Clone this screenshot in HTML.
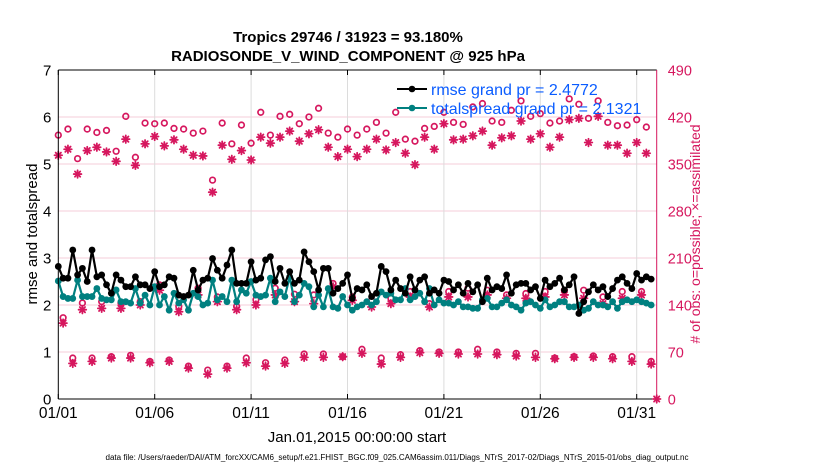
<!DOCTYPE html>
<html><head><meta charset="utf-8"><style>
html,body{margin:0;padding:0;background:#fff;width:830px;height:470px;overflow:hidden}
svg{display:block;font-family:"Liberation Sans",Arial,sans-serif}
</style></head><body>
<svg id="chart" width="830" height="470" viewBox="0 0 830 470">
<g id="grid"></g>
<g id="series"></g>
<g id="axes"></g>
<text x="348" y="42" text-anchor="middle" font-size="15" font-weight="bold">Tropics 29746 / 31923 = 93.180%</text>
<text x="348" y="61" text-anchor="middle" font-size="15" font-weight="bold">RADIOSONDE_V_WIND_COMPONENT @ 925 hPa</text>
<text transform="translate(37,234) rotate(-90)" text-anchor="middle" font-size="15">rmse and totalspread</text>
<text transform="translate(700,234) rotate(-90)" text-anchor="middle" font-size="14" fill="#d6175e"># of obs: o=possible; ×=assimilated</text>
<text x="357" y="442" text-anchor="middle" font-size="15">Jan.01,2015 00:00:00 start</text>
<text x="397" y="460" text-anchor="middle" font-size="8" textLength="583" lengthAdjust="spacingAndGlyphs">data file: /Users/raeder/DAI/ATM_forcXX/CAM6_setup/f.e21.FHIST_BGC.f09_025.CAM6assim.011/Diags_NTrS_2017-02/Diags_NTrS_2015-01/obs_diag_output.nc</text>
<g>
<line x1="397" y1="89" x2="427" y2="89" stroke="#000" stroke-width="2"/>
<circle cx="412" cy="89" r="3.3" fill="#000"/>
<text x="431" y="95" font-size="16" fill="#0a5cff">rmse grand pr = 2.4772</text>
<line x1="397" y1="108" x2="427" y2="108" stroke="#008080" stroke-width="2"/>
<circle cx="412" cy="108" r="3.3" fill="#008080"/>
<text x="431" y="114" font-size="16" fill="#0a5cff">totalspread grand pr = 2.1321</text>
</g>
</svg>
<script>
const rmse=[2.82,2.57,2.57,3.17,2.64,2.78,2.50,3.17,2.60,2.64,2.43,2.25,2.64,2.53,2.39,2.39,2.60,2.43,2.43,2.35,2.71,2.39,2.43,2.60,2.57,2.21,2.18,2.21,2.74,2.32,2.53,2.57,2.99,2.74,2.57,2.85,3.17,2.46,2.46,2.46,2.92,
2.53,2.57,2.96,3.03,2.50,2.78,2.46,2.71,2.46,2.53,3.13,2.92,2.71,2.32,2.78,2.78,2.25,2.35,2.46,2.64,2.14,2.35,2.32,2.43,2.18,2.25,2.82,2.71,2.32,2.53,2.35,2.25,2.60,2.32,2.53,2.60,2.25,2.32,2.25,2.53,
2.50,2.32,2.43,2.25,2.46,2.28,2.43,2.07,2.57,2.32,2.39,2.35,2.64,2.25,2.43,2.46,2.46,2.32,2.39,2.14,2.53,2.39,2.46,2.57,2.32,2.43,2.60,1.82,2.07,2.28,2.43,2.32,2.39,2.18,2.35,2.53,2.60,2.46,2.35,2.67,2.53,2.60,2.55];
const spread=[2.51,2.18,2.14,2.14,2.53,2.18,2.18,2.18,2.35,2.14,2.11,2.11,2.32,2.07,2.07,2.04,2.35,2.04,2.21,2.00,2.39,2.00,2.18,1.89,2.25,2.04,2.11,1.89,2.25,2.18,2.00,2.04,2.53,2.11,2.18,2.07,2.53,2.07,2.32,2.25,2.50,
2.21,2.18,2.21,2.57,2.07,2.28,2.18,2.60,2.07,2.21,2.46,2.39,1.96,2.21,1.96,2.35,1.96,1.93,2.18,2.00,1.89,1.96,2.00,2.07,2.00,2.07,2.28,2.21,2.25,2.11,2.11,2.35,2.11,2.18,2.25,2.07,2.35,2.00,2.11,2.04,
2.04,2.00,2.07,1.96,1.96,1.93,1.93,2.11,2.14,1.96,1.96,2.04,2.11,2.00,1.96,1.89,2.04,2.07,2.00,1.93,2.11,1.96,2.00,2.07,2.07,1.96,1.96,2.00,1.89,1.93,2.07,2.00,2.00,1.96,2.07,1.93,2.07,2.11,2.07,2.11,2.07,2.04,2.00];
const possUpper=[393,402,358,402,397,400,369,421,360,411,410,411,403,402,396,399,326,411,380,408,381,427,393,421,424,410,420,433,396,390,402,
393,402,412,396,427,387,384,403,406,427,412,409,435,440,414,412,430,444,421,425,411,414,447,439,418,444,412,407,408,416,405];
const assimUpper=[363,372,335,370,375,368,354,387,348,380,391,377,386,372,363,362,308,378,357,370,356,390,381,390,399,384,395,401,375,361,372,
361,372,387,371,382,366,349,390,372,410,386,387,392,399,378,389,392,414,387,395,375,390,416,418,382,421,378,378,366,382,366];
const possMid=[121,143,145,143,145,170,138,165,152,138,148,165,156,155,172,152,147,150,160,142,160,165,162,155,157,160,162,162,152,160,160];
const assimMid=[113,133,135,135,140,162,130,155,145,133,140,155,145,142,167,147,137,142,152,137,152,152,155,150,150,152,155,150,142,150,155];
const possLow=[61,61,63,65,56,58,49,43,49,61,54,58,67,67,63,74,61,66,72,70,70,74,70,68,68,61,63,64,63,63,56];
const assimLow=[53,56,61,61,54,56,46,37,46,54,49,53,62,62,63,68,52,62,69,68,67,67,66,64,62,60,62,62,60,56,52];
const xTickLabels=['01/01','01/06','01/11','01/16','01/21','01/26','01/31'];
const xTickDays=[0,5,10,15,20,25,30];
const yLeftTicks=[0,1,2,3,4,5,6,7];
const yRightTicks=[0,70,140,210,280,350,420,490];

const NS='http://www.w3.org/2000/svg';
const L=58.3,R=656.7,T=70,B=399;
const PX_PER_DAY=19.28;
const X=d=>L+d*PX_PER_DAY;
const Y=v=>B-(v/7)*(B-T);
const YR=c=>B-(c/490)*(B-T);
const PINK='#d6175e';
function mk(tag,attrs,parent){const e=document.createElementNS(NS,tag);for(const k in attrs)e.setAttribute(k,attrs[k]);parent.appendChild(e);return e;}
const grid=document.getElementById('grid'),ser=document.getElementById('series'),ax=document.getElementById('axes');

yLeftTicks.forEach(v=>{
  if(v>0&&v<7){const g=mk('line',{x1:L,x2:R,y1:Y(v),y2:Y(v),stroke:'#f6cdda','stroke-width':1},grid);
  
  }
  const t=mk('text',{x:L-7,y:Y(v)+5.5,'text-anchor':'end','font-size':15},ax);t.textContent=v;
  
  
});
yRightTicks.forEach(c=>{
  const t=mk('text',{x:R+11,y:YR(c)+5.5,'font-size':14.5,fill:PINK},ax);t.textContent=c;
  
  
});
xTickDays.forEach((d,i)=>{
  if(d>0){const g=mk('line',{x1:X(d),x2:X(d),y1:T,y2:B,stroke:'#dcdcdc','stroke-width':1},grid);
  
  }
  mk('line',{x1:X(d),x2:X(d),y1:B,y2:B-5,stroke:'#000'},ax);
  mk('line',{x1:X(d),x2:X(d),y1:T,y2:T+5,stroke:'#000'},ax);
  const t=mk('text',{x:X(d),y:418,'text-anchor':'middle','font-size':15.5},ax);t.textContent=xTickLabels[i];
  
  
});
mk('line',{x1:L,x2:R,y1:T,y2:T,stroke:'#000'},ax);
mk('line',{x1:L,x2:R,y1:B,y2:B,stroke:'#000'},ax);
mk('line',{x1:L,x2:L,y1:T,y2:B,stroke:'#000'},ax);
mk('line',{x1:R,x2:R,y1:T,y2:B,stroke:PINK},ax);

function star(cx,cy,parent){
  const g=mk('g',{stroke:PINK,'stroke-width':1.8,'stroke-linecap':'round'},parent);
  const r=3.8;
  mk('line',{x1:cx-r,x2:cx+r,y1:cy,y2:cy},g);
  mk('line',{x1:cx,x2:cx,y1:cy-r,y2:cy+r},g);
  mk('line',{x1:cx-r*.7,x2:cx+r*.7,y1:cy-r*.7,y2:cy+r*.7},g);
  mk('line',{x1:cx-r*.7,x2:cx+r*.7,y1:cy+r*.7,y2:cy-r*.7},g);
  return g;
}
function obsSet(poss,assim,t0,step,name){
  poss.forEach((c,i)=>{const d=(t0+i*step)*0.25;
    const s=star(X(d),YR(assim[i]),ser);
    
    
    const o=mk('circle',{cx:X(d),cy:YR(c),r:2.8,fill:'none',stroke:PINK,'stroke-width':1.7},ser);
    
    
  });
}
obsSet(possUpper,assimUpper,0,2,'obs-count-synoptic');
obsSet(possMid,assimMid,1,4,'obs-count-06z');
obsSet(possLow,assimLow,3,4,'obs-count-18z');

function line(vals,color,name){
  const pts=vals.map((v,i)=>X(i*0.25).toFixed(1)+','+Y(v).toFixed(1)).join(' ');
  const p=mk('polyline',{points:pts,fill:'none',stroke:color,'stroke-width':2.2,'stroke-linejoin':'round'},ser);
  
  
  vals.forEach((v,i)=>{const c=mk('circle',{cx:X(i*0.25),cy:Y(v),r:3.4,fill:color},ser);
    
    });
}
line(spread,'#008080','totalspread');
line(rmse,'#000','rmse');
const z=star(R,B,ax);


</script>
</body></html>
